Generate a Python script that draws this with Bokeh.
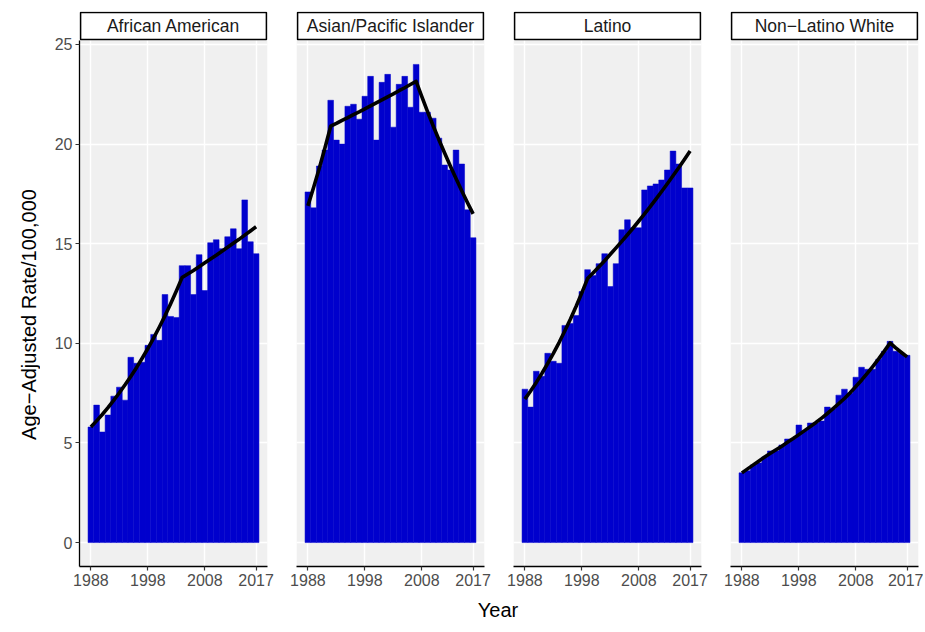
import math
from bokeh.plotting import figure
from bokeh.layouts import row, column
from bokeh.models import Range1d, FixedTicker, Label, ColumnDataSource, BoxAnnotation
from bokeh.embed import file_html
from bokeh.resources import INLINE

# ---------------- data ----------------
years = [1988, 1989, 1990, 1991, 1992, 1993, 1994, 1995, 1996, 1997,
         1998, 1999, 2000, 2001, 2002, 2003, 2004, 2005, 2006, 2007,
         2008, 2009, 2010, 2011, 2012, 2013, 2014, 2015, 2016, 2017]

groups = ["African American", "Asian/Pacific Islander", "Latino", "Non\u2212Latino White"]

rate_african_american = [5.8, 6.9, 5.55, 6.4, 7.35, 7.8, 7.15, 9.3, 9.0, 9.05,
                         9.9, 10.45, 10.15, 12.45, 11.35, 11.3, 13.9, 13.9, 12.45, 14.45,
                         12.65, 15.05, 15.2, 14.75, 15.35, 15.75, 14.75, 17.2, 15.1, 14.5]
rate_asian_pi = [17.6, 16.8, 18.9, 19.7, 22.2, 20.2, 20.0, 21.9, 22.0, 21.25,
                 22.4, 23.4, 20.2, 23.1, 23.5, 20.85, 23.0, 23.4, 21.85, 24.0,
                 21.6, 21.6, 21.3, 20.3, 18.95, 18.7, 19.7, 19.0, 16.7, 15.3]
rate_latino = [7.7, 6.8, 8.6, 8.35, 9.5, 9.1, 9.0, 10.9, 11.0, 11.4,
               12.6, 13.7, 13.4, 14.0, 14.5, 12.85, 14.0, 15.7, 16.2, 15.8,
               15.8, 17.7, 17.9, 18.0, 18.2, 18.7, 19.65, 19.0, 17.8, 17.8]
rate_nl_white = [3.5, 3.6, 3.9, 4.0, 4.3, 4.6, 4.6, 4.9, 5.2, 5.2,
                 5.9, 5.6, 6.0, 6.0, 6.1, 6.8, 6.7, 7.4, 7.7, 7.5,
                 8.3, 8.8, 8.7, 8.7, 9.2, 9.6, 10.1, 9.6, 9.5, 9.4]

fit_african_american = [5.80, 6.11, 6.43, 6.77, 7.14, 7.52, 7.92, 8.34, 8.78, 9.25,
                        9.74, 10.26, 10.81, 11.38, 11.99, 12.63, 13.30, 13.48, 13.66, 13.85,
                        14.04, 14.23, 14.42, 14.62, 14.82, 15.02, 15.22, 15.43, 15.64, 15.85]
fit_asian_pi = [16.9, 17.82, 18.79, 19.82, 20.9, 21.04, 21.19, 21.33, 21.48, 21.62,
                21.77, 21.92, 22.07, 22.22, 22.37, 22.52, 22.68, 22.83, 22.99, 23.15,
                22.38, 21.63, 20.91, 20.22, 19.55, 18.90, 18.27, 17.66, 17.07, 16.5]
fit_latino = [7.20, 7.61, 8.04, 8.50, 8.99, 9.50, 10.04, 10.62, 11.22, 11.86,
              12.54, 13.25, 13.54, 13.84, 14.15, 14.47, 14.79, 15.12, 15.45, 15.79,
              16.14, 16.50, 16.86, 17.24, 17.62, 18.01, 18.41, 18.81, 19.23, 19.65]
fit_nl_white = [3.50, 3.70, 3.90, 4.10, 4.30, 4.48, 4.66, 4.84, 5.03, 5.22,
                5.42, 5.62, 5.82, 6.03, 6.25, 6.48, 6.72, 6.97, 7.23, 7.52,
                7.83, 8.15, 8.49, 8.85, 9.22, 9.61, 10.02, 9.77, 9.54, 9.32]

x_ticks = [1988, 1998, 2008, 2017]
y_ticks = [0, 5, 10, 15, 20, 25]

y_title = "Age\u2212Adjusted Rate/100,000"
x_title = "Year"

rates = [rate_african_american, rate_asian_pi, rate_latino, rate_nl_white]
fits = [fit_african_american, fit_asian_pi, fit_latino, fit_nl_white]

# ---------------- style / geometry ----------------
FONT = "Liberation Sans"
PANEL_BG = "#F0F0F0"
BAR = "#0000CD"
TICK_COLOR = "#4D4D4D"
FRAME_W = 188
PANEL_H = 526            # height of the grey data panel
STRIP_H = 29             # strip area on top of the panel (inside the frame)
TOP = 11
BOTTOM = 30
TITLE_W = 40             # width of the column holding the y-axis title
LEFT = [39, 17, 17, 17]
RIGHT = [12, 12, 12, 5]
X_LO, X_HI = 1986, 2019
Y_LO, Y_HI = -1.2, 25.2
PX = (Y_HI - Y_LO) / PANEL_H          # data units per pixel (vertical)
XPX = (X_HI - X_LO) / FRAME_W         # data units per pixel (horizontal)
FIG_H = TOP + STRIP_H + PANEL_H + BOTTOM


def style_axis(ax):
    ax.major_label_text_font = FONT
    ax.major_label_text_font_size = "16px"
    ax.major_label_text_color = TICK_COLOR
    ax.major_label_standoff = 3
    ax.major_tick_out = 4
    ax.major_tick_in = 0
    ax.minor_tick_out = 0
    ax.minor_tick_in = 0
    ax.major_tick_line_color = "#333333"
    ax.major_tick_line_width = 1.2
    ax.axis_line_color = "black"
    ax.axis_line_width = 1.3


def make_panel(i, name):
    p = figure(frame_width=FRAME_W, frame_height=PANEL_H + STRIP_H,
               x_range=Range1d(X_LO, X_HI),
               y_range=Range1d(Y_LO, Y_HI + STRIP_H * PX),
               min_border_left=LEFT[i], min_border_right=RIGHT[i],
               min_border_top=TOP, min_border_bottom=BOTTOM,
               y_axis_location="left" if i == 0 else None,
               toolbar_location=None, output_backend="svg")
    p.background_fill_color = "white"
    p.border_fill_color = "white"
    p.outline_line_color = None

    # grey panel background (below the grid)
    p.add_layout(BoxAnnotation(left=X_LO, right=X_HI, bottom=Y_LO, top=Y_HI,
                               fill_color=PANEL_BG, fill_alpha=1.0,
                               line_alpha=0.0, level="image"))

    src = ColumnDataSource(dict(year=years, rate=rates[i], fit=fits[i]))
    p.vbar(x="year", top="rate", bottom=0, width=1.0, source=src,
           fill_color=BAR, line_color=BAR, line_width=0.5)
    p.line(x="year", y="fit", source=src, line_color="black",
           line_width=3.6, line_join="round")

    p.xgrid.ticker = FixedTicker(ticks=x_ticks)
    p.ygrid.ticker = FixedTicker(ticks=y_ticks)
    for g in (p.xgrid, p.ygrid):
        g.grid_line_color = "white"
        g.grid_line_width = 1.4

    p.xaxis.ticker = FixedTicker(ticks=x_ticks)
    style_axis(p.xaxis[0])
    if i == 0:
        p.yaxis.ticker = FixedTicker(ticks=y_ticks)
        p.yaxis.bounds = (Y_LO, Y_HI)
        style_axis(p.yaxis[0])

    # facet strip
    p.add_layout(BoxAnnotation(left=X_LO + 1 * XPX, right=X_HI - 1 * XPX,
                               bottom=Y_HI + 1 * PX, top=Y_HI + (STRIP_H - 1) * PX,
                               fill_color="white", fill_alpha=1.0,
                               line_color="black", line_alpha=1.0, line_width=1.7))
    p.add_layout(Label(x=(X_LO + X_HI) / 2, y=Y_HI + 14.5 * PX, text=name,
                       text_align="center", text_baseline="middle",
                       text_font=FONT, text_font_size="17.5px",
                       text_color="#1A1A1A"))
    return p


# y-axis title column (centred on the grey panels)
ytitle = figure(frame_width=TITLE_W, frame_height=FIG_H,
                x_range=Range1d(0, TITLE_W), y_range=Range1d(0, FIG_H),
                min_border_left=0, min_border_right=0,
                min_border_top=0, min_border_bottom=0,
                x_axis_location=None, y_axis_location=None,
                toolbar_location=None, output_backend="svg")
ytitle.grid.visible = False
ytitle.outline_line_color = None
ytitle.background_fill_color = "white"
ytitle.add_layout(Label(x=28, y=BOTTOM + PANEL_H / 2, text=y_title,
                        angle=math.pi / 2, text_align="center",
                        text_baseline="middle", text_font=FONT,
                        text_font_size="20px", text_color="black"))

panels = [make_panel(i, g) for i, g in enumerate(groups)]

total_w = TITLE_W + sum(LEFT) + sum(RIGHT) + 4 * FRAME_W
lead = TITLE_W + LEFT[0]
footer = figure(frame_width=total_w - lead - 7, frame_height=24,
                x_range=Range1d(0, 1), y_range=Range1d(0, 1),
                min_border_left=lead, min_border_right=7,
                min_border_top=0, min_border_bottom=0,
                x_axis_location=None, y_axis_location=None,
                toolbar_location=None, output_backend="svg")
footer.grid.visible = False
footer.outline_line_color = None
footer.background_fill_color = "white"
footer.add_layout(Label(x=0.5, y=0.42, text=x_title, text_align="center",
                        text_baseline="middle", text_font=FONT,
                        text_font_size="20px", text_color="black"))

layout = column(row(ytitle, *panels), footer)

open("out.html", "w").write(file_html(layout, INLINE))
